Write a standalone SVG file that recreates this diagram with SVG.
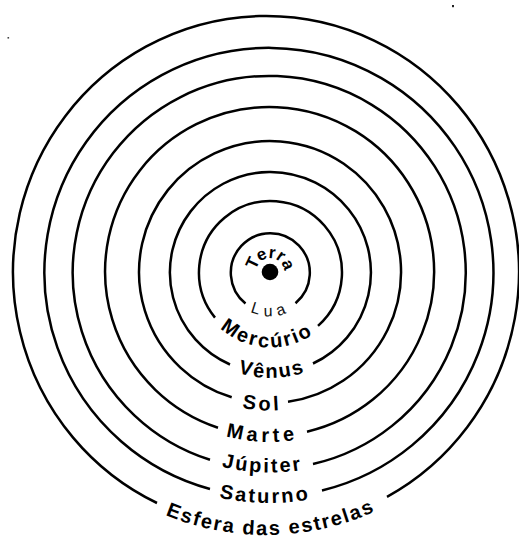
<svg xmlns="http://www.w3.org/2000/svg" width="519" height="539" viewBox="0 0 519 539">
<style>
.orb{fill:none;stroke:#000;stroke-width:2.5;stroke-linecap:butt}
.lbl{font-family:"Liberation Sans",Arial,sans-serif;font-weight:bold;font-size:20px;fill:#000}
.thin{font-family:"Liberation Sans",Arial,sans-serif;font-weight:normal;font-size:16px;fill:#111}
.tp{fill:none;stroke:none}
</style>
<defs>
<path id="pTerra" class="tp" d="M 256.14 273.95 A 14 14 0 1 1 283.69 274.91"/>
<path id="pLua" class="tp" d="M 232.8 295.4 A 43.5 43.5 0 0 0 308.2 293.7"/>
<path id="pMerc" class="tp" d="M 198.66 294.06 A 75 75 0 0 0 339.38 302.16"/>
<path id="pVen" class="tp" d="M 190.64 341.43 A 105.5 105.5 0 0 0 352.25 339.18"/>
<path id="pSol" class="tp" d="M 175.02 372.8 A 138.5 138.5 0 0 0 352.77 383.05"/>
<path id="pMar" class="tp" d="M 165.7 406.77 A 170.5 170.5 0 0 0 361.11 415.3"/>
<path id="pJup" class="tp" d="M 163.22 441.92 A 200 200 0 0 0 363.08 449.26"/>
<path id="pSat" class="tp" d="M 150.14 470.29 A 230.5 230.5 0 0 0 380.59 473.91"/>
<path id="pEsf" class="tp" d="M 100.84 476.67 A 263 263 0 0 0 438.9 470.2"/>
</defs>
<rect width="519" height="539" fill="#fff"/>
<rect x="7.5" y="37" width="1.6" height="1.6" fill="#444"/>
<rect x="452" y="5" width="2" height="2.2" fill="#222"/>

<g id="terra">
<circle cx="270" cy="272" r="8.3" fill="#000"/>
<text class="lbl" style="font-size:17px"><textPath href="#pTerra" startOffset="50%" text-anchor="middle">Terra</textPath></text>
</g>
<g id="lua">
<path class="orb" d="M 245.5 303.5 A 39.5 39.5 0 1 1 295.5 303.2"/>
<text class="thin" letter-spacing="5.5"><textPath href="#pLua" startOffset="50%" text-anchor="middle">Lua</textPath></text>
</g>
<g id="mercurio">
<path class="orb" d="M 215 317.6 A 71.5 71.5 0 1 1 318 325.9"/>
<text class="lbl" letter-spacing="2.2"><textPath href="#pMerc" startOffset="50%" text-anchor="middle">Mercúrio</textPath></text>
</g>
<g id="venus">
<path class="orb" d="M 230 364.5 A 100.5 100.5 0 1 1 313 363.5"/>
<text class="lbl" letter-spacing="1.8"><textPath href="#pVen" startOffset="50%" text-anchor="middle">Vênus</textPath></text>
</g>
<g id="sol">
<path class="orb" d="M 231.7 397.3 A 131 131 0 1 1 288 401.8"/>
<text class="lbl" letter-spacing="3"><textPath href="#pSol" startOffset="50%" text-anchor="middle">Sol</textPath></text>
</g>
<g id="marte">
<path class="orb" d="M 218 427.7 A 164.5 164.5 0 1 1 307 431.7"/>
<text class="lbl" letter-spacing="4"><textPath href="#pMar" startOffset="50%" text-anchor="middle">Marte</textPath></text>
</g>
<g id="jupiter">
<path class="orb" d="M 210 459.8 A 196.5 196.5 0 1 1 313 464"/>
<text class="lbl" letter-spacing="2.2"><textPath href="#pJup" startOffset="50%" text-anchor="middle">Júpiter</textPath></text>
</g>
<g id="saturno">
<path class="orb" d="M 210 489 A 224.5 224.5 0 1 1 322 490.5"/>
<text class="lbl" letter-spacing="2.4"><textPath href="#pSat" startOffset="50%" text-anchor="middle">Saturno</textPath></text>
</g>
<g id="esfera">
<path class="orb" d="M 157 503 A 253 256 0 1 1 387 496.8"/>
<text class="lbl" letter-spacing="1.8"><textPath href="#pEsf" startOffset="50%" text-anchor="middle">Esfera das estrelas</textPath></text>
</g>
<g id="connectors"/>
</svg>
